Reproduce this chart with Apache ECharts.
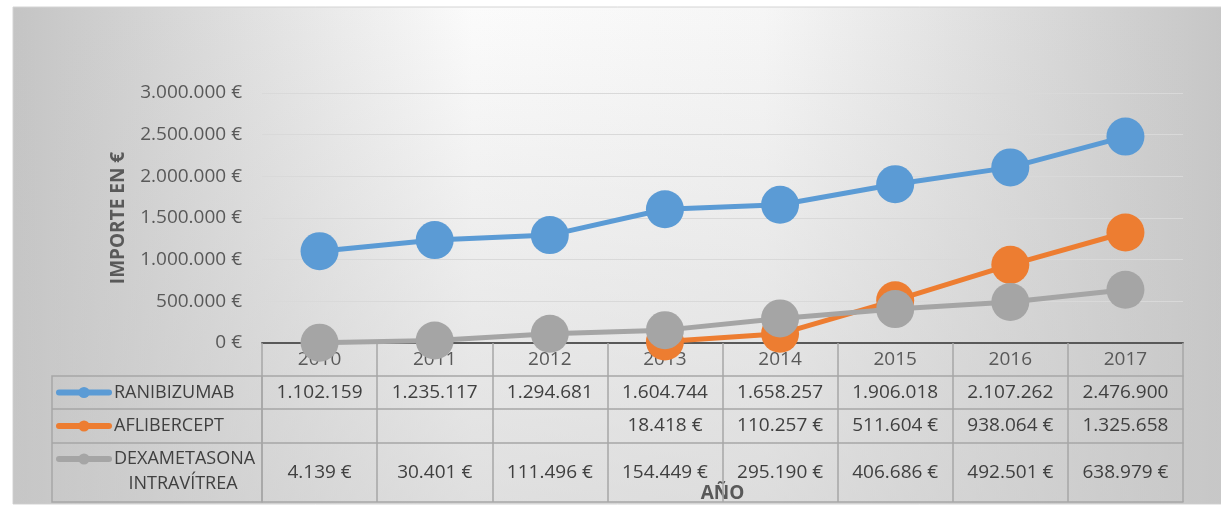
<!DOCTYPE html>
<html>
<head>
    <meta charset="UTF-8">
    <title></title>
    <script src="https://cdn.jsdelivr.net/npm/echarts@6/dist/echarts.min.js"></script>
</head>
<body style="margin:0;background:#fff;">
<div id="main" style="width: 1221px;height:506px;"></div>
<script type="text/javascript">
    var years = ['2010', '2011', '2012', '2013', '2014', '2015', '2016', '2017'];
    var ranibizumab = [1102159, 1235117, 1294681, 1604744, 1658257, 1906018, 2107262, 2476900];
    var aflibercept = [null, null, null, 18418, 110257, 511604, 938064, 1325658];
    var dexametasona = [4139, 30401, 111496, 154449, 295190, 406686, 492501, 638979];
    var names = ['RANIBIZUMAB', 'AFLIBERCEPT', 'DEXAMETASONA INTRAVÍTREA'];
    var colors = ['#5B9BD5', '#ED7D31', '#A5A5A5'];

    var font = 'Open Sans';
    var fs = 19;
    var fsLeg = 18;

    function fmt(v) {
        return String(v).replace(/\B(?=(\d{3})+(?!\d))/g, '.');
    }
    // Excel corta el € cuando no cabe
    function cell(v) {
        if (v == null) return '';
        return v >= 1000000 ? fmt(v) : fmt(v) + ' €';
    }

    var myChart = echarts.init(document.getElementById('main'));

    var border = '#a6a6a6';

    function rowAxis(offset, tickLen, margin, values) {
        return {
            type: 'category',
            data: years,
            position: 'bottom',
            offset: offset,
            boundaryGap: true,
            axisLine: {show: true, lineStyle: {color: border, width: 1.5}},
            axisTick: {show: tickLen > 0, interval: 0, length: tickLen, lineStyle: {color: border, width: 1.5}},
            axisLabel: {
                show: !!values,
                interval: 0,
                margin: margin,
                verticalAlign: 'middle',
                color: '#404040',
                fontSize: fs,
                fontFamily: font,
                formatter: function (v, i) { return values ? cell(values[i]) : ''; }
            },
            splitLine: {show: false}
        };
    }

    function legendFor(i, top, label) {
        return {
            data: [names[i]],
            left: 56,
            top: top,
            padding: 0,
            itemWidth: 50,
            itemHeight: 14,
            selectedMode: false,
            lineStyle: {width: 6, cap: 'round'},
            formatter: label ? function () { return label; } : null,
            textStyle: {fontSize: fsLeg, color: '#404040', fontFamily: font, lineHeight: 20}
        };
    }

    var option = {
        animation: false,
        backgroundColor: '#ffffff',
        graphic: [
            {
                type: 'rect', z: -100, silent: true,
                shape: {x: 13, y: 7, width: 1210, height: 497},
                style: {
                    fill: new echarts.graphic.LinearGradient(0, 0, 1, 0, [
                        {offset: 0, color: '#c4c4c4'},
                        {offset: 0.38, color: '#fbfbfb'},
                        {offset: 0.62, color: '#f6f6f6'},
                        {offset: 1, color: '#c6c6c6'}
                    ]),
                    stroke: '#d4d4d4', lineWidth: 1
                }
            },
            {
                type: 'rect', z: -99, silent: true,
                shape: {x: 13, y: 7, width: 1210, height: 497},
                style: {
                    fill: new echarts.graphic.LinearGradient(0, 0, 0, 1, [
                        {offset: 0, color: 'rgba(200,200,200,0)'},
                        {offset: 1, color: 'rgba(200,200,200,0.55)'}
                    ])
                }
            },
            {
                type: 'rect', silent: true,
                shape: {x: 52, y: 376, width: 210, height: 126},
                style: {fill: 'none', stroke: border, lineWidth: 1.5}
            },
            {
                type: 'line', silent: true,
                shape: {x1: 52, y1: 409, x2: 262, y2: 409},
                style: {stroke: border, lineWidth: 1.5}
            },
            {
                type: 'line', silent: true,
                shape: {x1: 52, y1: 443, x2: 262, y2: 443},
                style: {stroke: border, lineWidth: 1.5}
            },
            {
                type: 'text', silent: true,
                x: 183, y: 484,
                style: {text: 'INTRAVÍTREA', fill: '#404040', font: fsLeg + 'px "' + font + '"', align: 'center', verticalAlign: 'middle'}
            }
        ],
        legend: [
            legendFor(0, 382.5),
            legendFor(1, 416),
            legendFor(2, 449, 'DEXAMETASONA')
        ],
        grid: {left: 262, right: 38, top: 93, bottom: 163},
        xAxis: [
            {
                type: 'category',
                data: years,
                position: 'bottom',
                boundaryGap: true,
                axisLine: {lineStyle: {color: '#595959', width: 2}},
                axisTick: {show: true, interval: 0, length: 33, lineStyle: {color: border, width: 1.5}},
                axisLabel: {interval: 0, margin: 17, verticalAlign: 'middle', color: '#595959', fontSize: fs, fontFamily: font},
                name: 'AÑO',
                nameLocation: 'middle',
                nameGap: 141,
                nameTextStyle: {fontWeight: 'bold', fontSize: fs, color: '#595959', fontFamily: font}
            },
            rowAxis(33, 33, 16.5, ranibizumab),
            rowAxis(66, 34, 17, aflibercept),
            rowAxis(100, 59, 29.5, dexametasona),
            rowAxis(159, 0, 0, null)
        ],
        yAxis: {
            type: 'value',
            min: 0,
            max: 3000000,
            interval: 500000,
            axisLine: {show: false},
            axisTick: {show: false},
            axisLabel: {
                margin: 20,
                color: '#595959',
                fontSize: fs,
                fontFamily: font,
                formatter: function (v) { return fmt(v) + ' €'; }
            },
            splitLine: {lineStyle: {color: '#d9d9d9', width: 1}},
            name: 'IMPORTE EN €',
            nameLocation: 'middle',
            nameGap: 134,
            nameRotate: 90,
            nameTextStyle: {fontWeight: 'bold', fontSize: fs, color: '#595959', fontFamily: font}
        },
        series: [ranibizumab, aflibercept, dexametasona].map(function (d, i) {
            return {
                name: names[i],
                type: 'line',
                data: d,
                symbol: 'circle',
                symbolSize: 38,
                clip: false,
                itemStyle: {color: colors[i]},
                lineStyle: {color: colors[i], width: 5}
            };
        })
    };

    myChart.setOption(option);
</script>
</body>
</html>
